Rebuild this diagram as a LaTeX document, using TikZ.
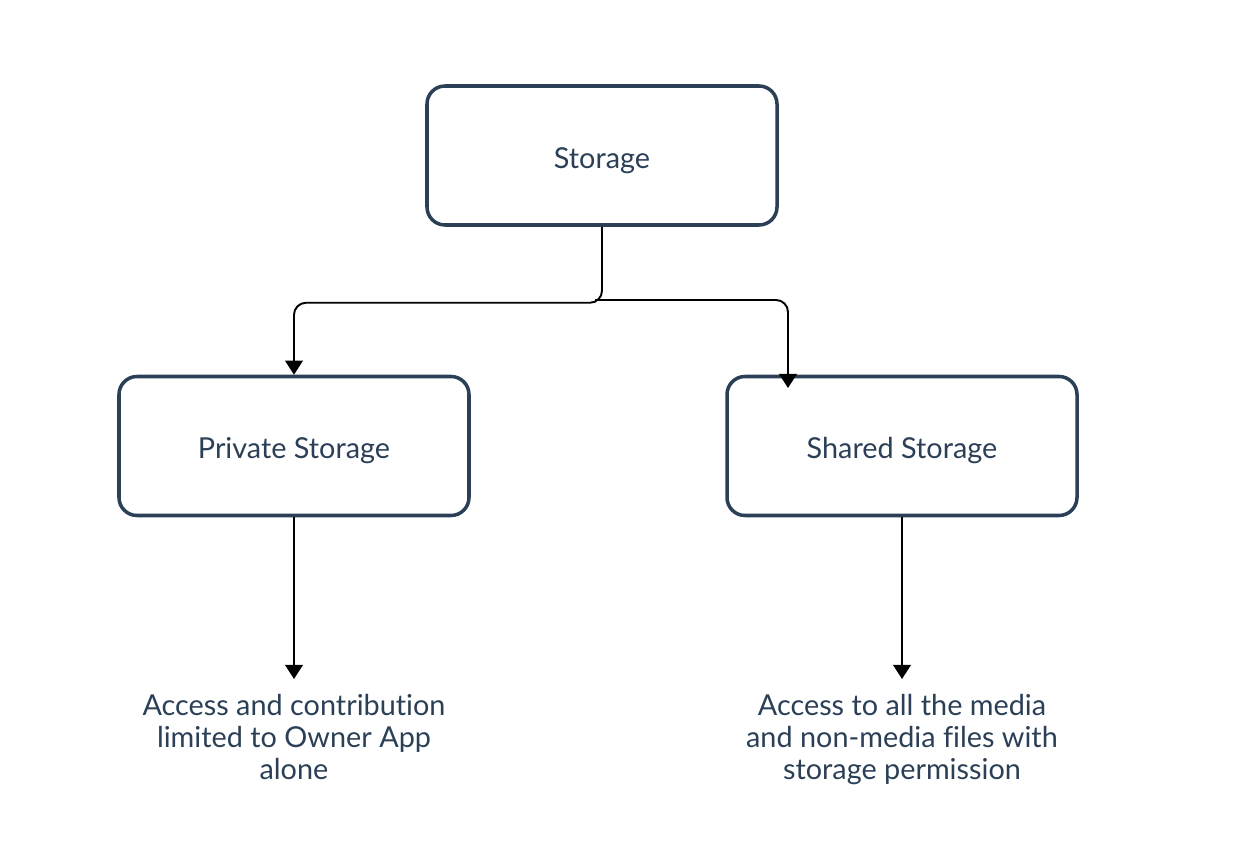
\documentclass[tikz,border=0pt]{standalone}
\usepackage{fontspec}
\setmainfont{Lato}[Ligatures={NoCommon}]
\usetikzlibrary{arrows.meta}
\definecolor{navy}{HTML}{2B3F56}

\begin{document}
\begin{tikzpicture}[
    box/.style={draw=navy, line width=1pt, rounded corners=0.18cm,
        minimum width=3.5cm, minimum height=1.39cm, text=navy,
        text height=8.8pt, text depth=1.6pt,
        font=\fontsize{8.2}{9.1}\selectfont},
    desc/.style={text=navy, align=center, anchor=north, inner sep=0.15cm,
        font=\fontsize{8.2}{9.1}\selectfont},
    link/.style={line width=0.55pt, rounded corners=0.12cm,
        -{Triangle[length=4pt,width=5pt]}}
]
    \useasboundingbox (0,0) rectangle (12.41,8.42);
    \node[box] (storage) at (6.02,6.865) {Storage};
    \node[box] (private) at (2.94,3.96) {Private Storage};
    \node[box] (shared) at (9.02,3.96) {Shared Storage};
    \node[desc] (privatetext) at (2.94,1.63) {Access and contribution\\limited to Owner App\\alone};
    \node[desc] (sharedtext) at (9.02,1.63) {Access to all the media\\and non-media files with\\storage permission};
    \coordinate (split) at (5.95,5.42);
    \coordinate (sharedin) at (7.88,4.54);
    \draw[link] (storage.south) -- ++(0,-0.76) -| (private.north);
    \draw[link] (split) -| (sharedin);
    \draw[link] (private) -- (privatetext);
    \draw[link] (shared) -- (sharedtext);
\end{tikzpicture}
\end{document}
